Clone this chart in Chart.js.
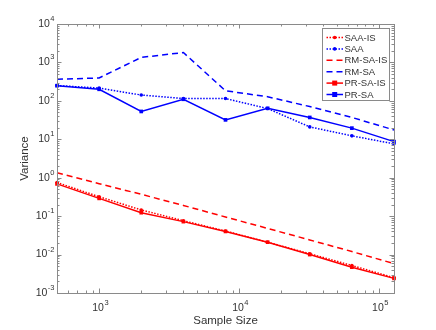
<!DOCTYPE html>
<html>
<head>
<meta charset="utf-8">
<style>
  html, body { margin: 0; padding: 0; background: #fff; }
  canvas { display: block; }
</style>
<script src="https://cdn.jsdelivr.net/npm/chart.js@4/dist/chart.umd.min.js"></script>
</head>
<body>
<canvas class="chart" width="436" height="330"></canvas>
<script>
(function() {

    // sample sizes (x axis)
    let sampleSizes = [500, 1000, 2000, 4000, 8000, 16000, 32000, 64000, 128000];

    // variance per method
    let saaIs  = [0.75, 0.32, 0.145, 0.076, 0.041, 0.021, 0.0105, 0.0052, 0.0025];
    let saa    = [250, 215, 142, 115, 115, 63, 21, 12.3, 7.6];
    let rmSaIs = [1.35, 0.7, 0.37, 0.19, 0.095, 0.048, 0.024, 0.012, 0.0058];
    let rmSa   = [365, 394, 1350, 1810, 183, 128, 71, 37, 17.5];
    let prSaIs = [0.69, 0.29, 0.123, 0.072, 0.040, 0.021, 0.010, 0.0047, 0.0024];
    let prSa   = [248, 200, 53, 110, 32, 64, 37, 19.5, 8.7];

    // tick labels are powers of ten
    let xTickExponents = [3, 4, 5];
    let yTickExponents = [-3, -2, -1, 0, 1, 2, 3, 4];

    let xTitle = 'Sample Size';
    let yTitle = 'Variance';

    let RED = '#ff0000';
    let BLUE = '#0000ff';
    let AXIS = '#8a8a8a';
    let TEXT = '#333333';
    let FONT = '"Liberation Sans", Arial, sans-serif';

    let ctx = document.querySelector('.chart');

    /**
     * Pairs sample sizes with a series
     */
    let toPoints = values => values.map((v, i) => ({ x: sampleSizes[i], y: v }));

    let makeSet = (label, values, color, dash, marker) => ({
        label: label,
        data: toPoints(values),
        borderColor: color,
        backgroundColor: color,
        borderWidth: 1.5,
        borderDash: dash,
        pointStyle: marker || false,
        pointRadius: marker === 'rect' ? 2.6 : (marker ? 1.8 : 0),
        pointBorderWidth: 0,
        tension: 0,
        clip: false
    });

    let datasets = [
        makeSet('SAA-IS', saaIs, RED, [1.5, 1.5], 'circle'),
        makeSet('SAA', saa, BLUE, [1.5, 1.5], 'circle'),
        makeSet('RM-SA-IS', rmSaIs, RED, [6, 4], null),
        makeSet('RM-SA', rmSa, BLUE, [6, 4], null),
        makeSet('PR-SA-IS', prSaIs, RED, [], 'rect'),
        makeSet('PR-SA', prSa, BLUE, [], 'rect')
    ];

    /**
     * Draws "10" with a raised exponent
     */
    let drawPow = (c, exp, x, y, align) => {
        c.fillStyle = TEXT;
        c.textBaseline = 'middle';
        c.font = '10.5px ' + FONT;
        let base = '10';
        let bw = c.measureText(base).width;
        c.font = '7.5px ' + FONT;
        let ew = c.measureText(String(exp)).width;
        let start = align === 'right' ? x - bw - ew : x - (bw + ew) / 2;
        c.font = '10.5px ' + FONT;
        c.textAlign = 'left';
        c.fillText(base, start, y);
        c.font = '7.5px ' + FONT;
        c.fillText(String(exp), start + bw + 0.5, y - 5);
    };

    /**
     * Matlab style frame: box, inward ticks, labels, titles and legend
     */
    let framePlugin = {
        id: 'frame',
        afterDraw: chart => {
            let c = chart.ctx;
            let area = chart.chartArea;
            let xs = chart.scales.x;
            let ys = chart.scales.y;

            c.save();
            c.strokeStyle = AXIS;
            c.lineWidth = 1;
            c.setLineDash([]);
            c.strokeRect(area.left + 0.5, area.top + 0.5, area.right - area.left, area.bottom - area.top);

            c.beginPath();
            for (let e = 2; e <= 5; e++) {
                for (let k = 1; k <= 9; k++) {
                    let v = k * Math.pow(10, e);
                    if (v < xs.min || v > xs.max) continue;
                    let px = Math.round(xs.getPixelForValue(v)) + 0.5;
                    let len = k === 1 ? 4.5 : 2.5;
                    c.moveTo(px, area.bottom);
                    c.lineTo(px, area.bottom - len);
                    c.moveTo(px, area.top);
                    c.lineTo(px, area.top + len);
                }
            }
            for (let e = -3; e <= 4; e++) {
                for (let k = 1; k <= 9; k++) {
                    let v = k * Math.pow(10, e);
                    if (v < ys.min || v > ys.max) continue;
                    let py = Math.round(ys.getPixelForValue(v)) + 0.5;
                    let len = k === 1 ? 4.5 : 2.5;
                    c.moveTo(area.left, py);
                    c.lineTo(area.left + len, py);
                    c.moveTo(area.right, py);
                    c.lineTo(area.right - len, py);
                }
            }
            c.stroke();

            xTickExponents.forEach(e => {
                drawPow(c, e, xs.getPixelForValue(Math.pow(10, e)) + 1, area.bottom + 15, 'center');
            });
            yTickExponents.forEach(e => {
                drawPow(c, e, area.left - 3, ys.getPixelForValue(Math.pow(10, e)), 'right');
            });

            c.fillStyle = TEXT;
            c.font = '11.5px ' + FONT;
            c.textAlign = 'center';
            c.textBaseline = 'middle';
            c.fillText(xTitle, (area.left + area.right) / 2, 320.5);
            c.translate(25, (area.top + area.bottom) / 2);
            c.rotate(-Math.PI / 2);
            c.fillText(yTitle, 0, 0);
            c.setTransform(1, 0, 0, 1, 0, 0);

            // legend box
            let lx = 322, ly = 28, lw = 67, lh = 72;
            c.fillStyle = '#fff';
            c.fillRect(lx, ly, lw, lh);
            c.strokeStyle = AXIS;
            c.strokeRect(lx + 0.5, ly + 0.5, lw, lh);

            chart.data.datasets.forEach((ds, i) => {
                let y = ly + 9.5 + i * 11.4;
                c.strokeStyle = ds.borderColor;
                c.lineWidth = ds.borderWidth;
                c.setLineDash(ds.borderDash);
                c.beginPath();
                c.moveTo(326.5, y);
                c.lineTo(343, y);
                c.stroke();
                c.setLineDash([]);
                c.fillStyle = ds.borderColor;
                if (ds.pointStyle === 'rect') {
                    c.fillRect(334.7 - 2.5, y - 2.5, 5, 5);
                } else if (ds.pointStyle === 'circle') {
                    c.beginPath();
                    c.arc(334.7, y, 1.8, 0, Math.PI * 2);
                    c.fill();
                }
                c.fillStyle = TEXT;
                c.font = '9.5px ' + FONT;
                c.textAlign = 'left';
                c.textBaseline = 'middle';
                c.fillText(ds.label, 344.5, y + 0.5);
            });
            c.restore();
        }
    };

    new Chart(ctx, {
        type: 'line',
        data: { datasets: datasets },
        options: {
            responsive: false,
            animation: false,
            layout: {
                padding: { left: 57, right: 42, top: 24, bottom: 37 }
            },
            scales: {
                x: {
                    type: 'logarithmic',
                    min: 500,
                    max: 128000,
                    display: false
                },
                y: {
                    type: 'logarithmic',
                    min: 0.001,
                    max: 10000,
                    display: false
                }
            },
            plugins: {
                legend: { display: false },
                tooltip: { enabled: false }
            }
        },
        plugins: [framePlugin]
    });

})()
</script>
</body>
</html>
